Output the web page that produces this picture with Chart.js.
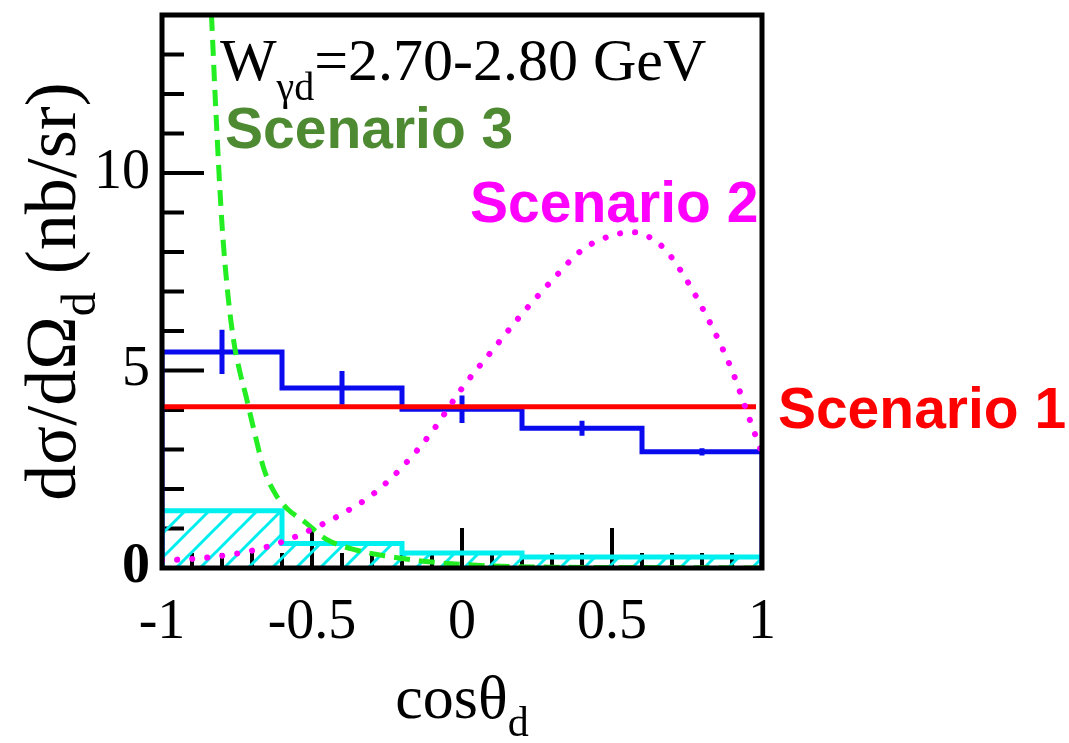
<!DOCTYPE html>
<html>
<head>
<meta charset="utf-8">
<script src="https://cdn.jsdelivr.net/npm/chart.js@4/dist/chart.umd.min.js"></script>
<style>
  html,body{margin:0;padding:0;background:#fff}
  #wrap{width:1069px;height:743px}
</style>
</head>
<body>
<div id="wrap"><canvas id="c" width="1069" height="743"></canvas></div>
<script>
// measured dsigma/dOmega in cos(theta_d) bins
const binEdges   = [-1, -0.6, -0.2, 0.2, 0.6, 1];
const binCenters = [-0.8, -0.4, 0, 0.4, 0.8];
const dataValues = [5.47, 4.56, 4.02, 3.54, 2.94];
const dataErrors = [0.56, 0.43, 0.35, 0.19, 0.09];
// hatched band
const bandValues = [1.45, 0.62, 0.38, 0.28, 0.28];

// scenario curves
const s1X = [-1, 0.98];
const s1Y = [4.08, 4.08];
const s2X = [-1, -0.9, -0.8, -0.7, -0.6, -0.5, -0.4, -0.3, -0.2, -0.1, 0, 0.1, 0.2, 0.3, 0.4, 0.5, 0.57, 0.65, 0.7, 0.8, 0.9, 0.95, 1];
const s2Y = [0.20, 0.23, 0.31, 0.44, 0.66, 0.98, 1.37, 1.85, 2.55, 3.45, 4.55, 5.50, 6.43, 7.28, 8.05, 8.42, 8.50, 8.25, 7.85, 6.60, 5.00, 3.95, 2.90];
const s3X = [-0.835, -0.82, -0.8, -0.78, -0.76, -0.74, -0.72, -0.7, -0.66, -0.62, -0.58, -0.53, -0.45, -0.35, -0.25, -0.1, 0.1, 0.3, 0.6, 1];
const s3Y = [14.0, 11.5, 8.7, 6.9, 5.7, 4.95, 4.35, 3.7, 2.5, 1.85, 1.48, 1.2, 0.72, 0.45, 0.3, 0.15, 0.05, 0.02, 0.01, 0.0];

const xTickLabels = [-1, -0.5, 0, 0.5, 1];
const yTickLabels = [0, 5, 10];
const xMinorTicks = [-0.9, -0.8, -0.7, -0.6, -0.5, -0.4, -0.3, -0.2, -0.1, 0, 0.1, 0.2, 0.3, 0.4, 0.5, 0.6, 0.7, 0.8, 0.9];
const yMinorTicks = [1, 2, 3, 4, 5, 6, 7, 8, 9, 10, 11, 12, 13, 14];

const SERIF = '"Liberation Serif", "Times New Roman", serif';
const SANS = '"Liberation Sans", Arial, sans-serif';

function histPoints(edges, vals){
  const pts = [{x: edges[0], y: 0}];
  vals.forEach((v, i) => pts.push({x: edges[i], y: v}));
  pts.push({x: edges[edges.length-1], y: vals[vals.length-1]});
  pts.push({x: edges[edges.length-1], y: 0});
  return pts;
}
function errPoints(){
  const pts = [];
  binCenters.forEach((c, i) => {
    pts.push({x: c, y: dataValues[i] - dataErrors[i]});
    pts.push({x: c, y: dataValues[i] + dataErrors[i]});
    pts.push({x: c, y: null});
  });
  return pts;
}
const zip = (xs, ys) => xs.map((x, i) => ({x, y: ys[i]}));

// cyan hatch
function hatch(){
  const c = document.createElement('canvas');
  c.width = 24; c.height = 24;
  const g = c.getContext('2d');
  g.strokeStyle = '#00eeee'; g.lineWidth = 3;
  g.beginPath();
  g.moveTo(0, 24); g.lineTo(24, 0);
  g.moveTo(-12, 12); g.lineTo(12, -12);
  g.moveTo(12, 36); g.lineTo(36, 12);
  g.stroke();
  return g.createPattern(c, 'repeat');
}

function richText(ctx, parts, x, y, font, subFont, drop, align){
  let w = 0;
  parts.forEach(p => { ctx.font = p.sub ? subFont : font; w += ctx.measureText(p.t).width; });
  let cx = align === 'center' ? x - w/2 : x;
  ctx.textAlign = 'left'; ctx.textBaseline = 'alphabetic';
  parts.forEach(p => {
    ctx.font = p.sub ? subFont : font;
    ctx.fillText(p.t, cx, y + (p.sub ? drop : 0));
    cx += ctx.measureText(p.t).width;
  });
}

const frameTicks = {
  id: 'frameTicks',
  beforeDatasetsDraw(chart){
    const {ctx, chartArea: a, scales: {x, y}} = chart;
    ctx.save();
    ctx.strokeStyle = '#000'; ctx.lineWidth = 4; ctx.lineCap = 'butt';
    ctx.beginPath();
    yMinorTicks.forEach(v => {
      const py = y.getPixelForValue(v);
      const len = yTickLabels.includes(v) ? 42 : 22;
      ctx.moveTo(a.left, py); ctx.lineTo(a.left + len, py);
    });
    xMinorTicks.forEach(v => {
      const px = x.getPixelForValue(v);
      const len = xTickLabels.includes(v) ? 40 : 15;
      ctx.moveTo(px, a.bottom); ctx.lineTo(px, a.bottom - len);
    });
    ctx.stroke();
    ctx.restore();
  },
  afterDatasetsDraw(chart){
    const {ctx, chartArea: a} = chart;
    ctx.save();
    ctx.strokeStyle = '#000'; ctx.lineWidth = 5;
    ctx.strokeRect(a.left, a.top, a.right - a.left, a.bottom - a.top);
    ctx.restore();
  },
  afterDraw(chart){
    const {ctx, scales: {x, y}} = chart;
    ctx.save();
    // annotation
    ctx.fillStyle = '#000';
    richText(ctx, [{t:'W'}, {t:'\u03b3d', sub:true}, {t:'=2.70-2.80 GeV'}],
      x.getPixelForValue(-0.807), y.getPixelForValue(12.35),
      '60px ' + SERIF, '40px ' + SERIF, 20);
    // scenario labels
    ctx.font = 'bold 57px ' + SANS;
    ctx.textAlign = 'left'; ctx.textBaseline = 'alphabetic';
    ctx.fillStyle = '#4d8a32';
    ctx.fillText('Scenario 3', x.getPixelForValue(-0.79), y.getPixelForValue(10.63));
    ctx.fillStyle = '#ff00ff';
    ctx.fillText('Scenario 2', x.getPixelForValue(0.027), y.getPixelForValue(8.76));
    ctx.fillStyle = '#ff0000';
    ctx.fillText('Scenario 1', x.getPixelForValue(1.053), y.getPixelForValue(3.54));
    // x title
    ctx.fillStyle = '#000';
    richText(ctx, [{t:'cos\u03b8'}, {t:'d', sub:true}], x.getPixelForValue(0.0), 718,
      '62px ' + SERIF, '42px ' + SERIF, 18, 'center');
    // y title
    ctx.translate(75, y.getPixelForValue(7.0));
    ctx.rotate(-Math.PI/2);
    richText(ctx, [{t:'d\u03c3/d\u03a9'}, {t:'d', sub:true}, {t:' (nb/sr)'}], 0, 0,
      '72px ' + SERIF, '48px ' + SERIF, 20, 'center');
    ctx.restore();
  }
};

const ctx = document.getElementById('c').getContext('2d');
new Chart(ctx, {
  type: 'scatter',
  data: {
    datasets: [
      { label: 'Scenario 2', data: zip(s2X, s2Y), showLine: true, order: 0,
        borderColor: '#ff00ff', borderWidth: 6, borderDash: [0.1, 15], borderCapStyle: 'round',
        cubicInterpolationMode: 'monotone', pointRadius: 0 },
      { label: 'Scenario 3', data: zip(s3X, s3Y), showLine: true, order: 1,
        borderColor: '#22ee22', borderWidth: 5, borderDash: [16, 9],
        cubicInterpolationMode: 'monotone', pointRadius: 0 },
      { label: 'Scenario 1', data: zip(s1X, s1Y), showLine: true, order: 2,
        borderColor: '#ff0000', borderWidth: 5, pointRadius: 0 },
      { label: 'errors', data: errPoints(), showLine: true, order: 3, spanGaps: false,
        borderColor: '#0a0aee', borderWidth: 5, pointRadius: 0 },
      { label: 'data', data: histPoints(binEdges, dataValues), showLine: true, order: 4,
        stepped: true, borderColor: '#0a0aee', borderWidth: 5, pointRadius: 0 },
      { label: 'band', data: histPoints(binEdges, bandValues), showLine: true, order: 5,
        stepped: true, borderColor: '#00f0f0', borderWidth: 5, pointRadius: 0,
        fill: 'origin', backgroundColor: hatch() }
    ]
  },
  options: {
    responsive: false,
    animation: false,
    devicePixelRatio: 1,
    layout: { padding: { left: 0, right: 307, top: 15, bottom: 0 } },
    plugins: { legend: { display: false }, tooltip: { enabled: false } },
    scales: {
      x: {
        type: 'linear', min: -1, max: 1,
        afterBuildTicks: s => { s.ticks = xTickLabels.map(v => ({value: v})); },
        afterFit: s => { s.height = 175; s.paddingLeft = 0; s.paddingRight = 0; },
        grid: { display: false, drawTicks: false }, border: { display: false },
        ticks: { color: '#000', padding: 22, maxRotation: 0, autoSkip: false,
          font: { family: SERIF, size: 56 }, callback: v => String(v) }
      },
      y: {
        min: 0, max: 14,
        afterBuildTicks: s => { s.ticks = yTickLabels.map(v => ({value: v})); },
        afterFit: s => { s.width = 162; s.paddingTop = 0; s.paddingBottom = 0; },
        grid: { display: false, drawTicks: false }, border: { display: false },
        ticks: { color: '#000', padding: 12,
          font: c => ({ family: SERIF, size: 56, weight: c.tick && c.tick.value === 0 ? 'bold' : 'normal' }),
          callback: v => String(v) }
      }
    }
  },
  plugins: [frameTicks]
});
</script>
</body>
</html>
